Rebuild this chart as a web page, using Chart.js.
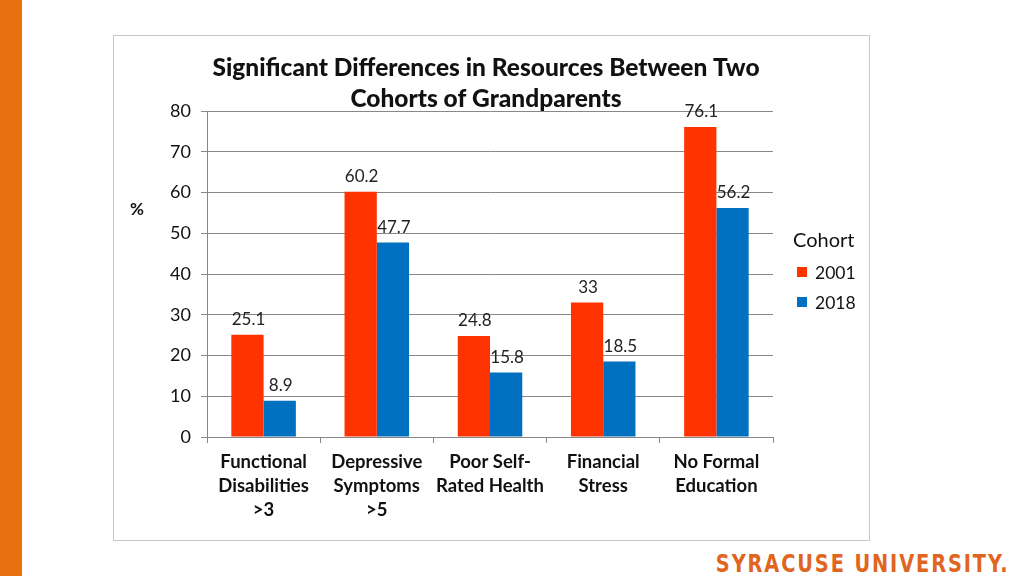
<!DOCTYPE html>
<html>
<head>
<meta charset="utf-8">
<script src="https://cdn.jsdelivr.net/npm/chart.js@4.4.1/dist/chart.umd.min.js"></script>
<style>
  html, body { margin: 0; padding: 0; background: #fff; }
  #wrap { position: relative; width: 1024px; height: 576px; overflow: hidden; }
  #bar { position: absolute; left: 0; top: 0; width: 22px; height: 576px; background: #E8700F; }
  #box { position: absolute; left: 113px; top: 35px; width: 755px; height: 504px; border: 1px solid #c8c8c8; }
  #logo { position: absolute; right: 14px; top: 549px; font-family: "DejaVu Sans Condensed", "DejaVu Sans", sans-serif; font-weight: bold;
          font-size: 25px; letter-spacing: 2.2px; color: #E0651F; transform: scaleX(0.86); transform-origin: right; white-space: nowrap; }
  canvas { position: absolute; left: 0; top: 0; }
</style>
</head>
<body>
<div id="wrap">
  <div id="bar"></div>
  <div id="box"></div>
  <div id="logo">SYRACUSE UNIVERSITY.</div>
  <canvas id="chart" width="1024" height="576"></canvas>
</div>
<script>
// values
const categories = [
  ["Functional", "Disabilities", ">3"],
  ["Depressive", "Symptoms", ">5"],
  ["Poor Self-", "Rated Health"],
  ["Financial", "Stress"],
  ["No Formal", "Education"]
];
const cohort2001 = [25.1, 60.2, 24.8, 33, 76.1];
const cohort2018 = [8.9, 47.7, 15.8, 18.5, 56.2];
const yTicks = [0, 10, 20, 30, 40, 50, 60, 70, 80];

const RED = "#FF3300";
const BLUE = "#0070C0";
const FONT = "Lato, 'Open Sans', sans-serif";

// value labels over each bar
const barLabels = {
  id: "barLabels",
  afterDatasetsDraw(chart) {
    const ctx = chart.ctx;
    ctx.save();
    ctx.font = "17px " + FONT;
    ctx.fillStyle = "#222";
    ctx.textAlign = "center";
    ctx.textBaseline = "bottom";
    chart.data.datasets.forEach((ds, i) => {
      chart.getDatasetMeta(i).data.forEach((bar, j) => {
        ctx.fillText(String(ds.data[j]), bar.x + 1, bar.y - 7);
      });
    });
    ctx.restore();
  }
};

// title, % label and legend
const decorations = {
  id: "decorations",
  afterDraw(chart) {
    const ctx = chart.ctx;
    ctx.save();
    ctx.fillStyle = "#111";
    ctx.textAlign = "center";
    ctx.textBaseline = "middle";
    ctx.font = "900 24.5px " + FONT;
    ctx.fillText("Significant Differences in Resources Between Two", 486, 68);
    ctx.fillText("Cohorts of Grandparents", 486, 99);

    ctx.font = "bold 17px " + FONT;
    ctx.fillText("%", 137, 210);

    ctx.textAlign = "left";
    ctx.font = "20px " + FONT;
    ctx.fillText("Cohort", 793, 241);
    ctx.font = "17.5px " + FONT;
    const items = [["2001", RED, 272], ["2018", BLUE, 302]];
    items.forEach(([label, color, y]) => {
      ctx.fillStyle = color;
      ctx.fillRect(797, y - 5, 10, 10);
      ctx.fillStyle = "#111";
      ctx.fillText(label, 815, y + 1);
    });
    ctx.restore();
  }
};

new Chart(document.getElementById("chart"), {
  type: "bar",
  data: {
    labels: categories,
    datasets: [
      { label: "2001", data: cohort2001, backgroundColor: RED },
      { label: "2018", data: cohort2018, backgroundColor: BLUE }
    ]
  },
  options: {
    responsive: false,
    animation: false,
    layout: { padding: { left: 167, right: 251, top: 111, bottom: 39 } },
    datasets: { bar: { categoryPercentage: 0.57, barPercentage: 1 } },
    plugins: { legend: { display: false }, tooltip: { enabled: false } },
    scales: {
      x: {
        offset: true,
        afterFit(scale) { scale.height = 100; },
        grid: { offset: true, drawOnChartArea: false, color: "#888", tickLength: 6 },
        border: { color: "#888" },
        ticks: { color: "#111", font: { family: FONT, size: 18.5, weight: "bold", lineHeight: 1.3 }, padding: 7, maxRotation: 0, autoSkip: false }
      },
      y: {
        min: 0,
        max: 80,
        afterFit(scale) { scale.width = 40; },
        afterBuildTicks(scale) { scale.ticks = yTicks.map((v) => ({ value: v })); },
        grid: { color: "#888", tickLength: 6 },
        border: { color: "#888" },
        ticks: { color: "#111", font: { family: FONT, size: 18 }, padding: 10 }
      }
    }
  },
  plugins: [barLabels, decorations]
});
</script>
</body>
</html>
